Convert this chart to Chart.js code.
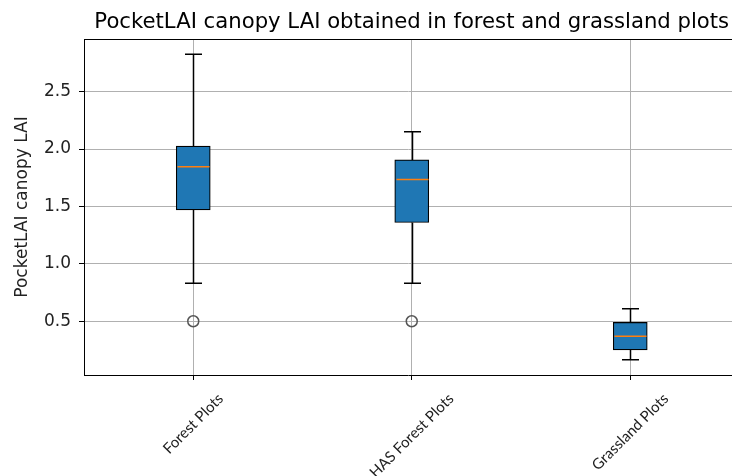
<!DOCTYPE html>
<html>
<head>
<meta charset="utf-8">
<script src="https://cdn.jsdelivr.net/npm/chart.js@4"></script>
<style>
  html, body { margin: 0; padding: 0; background: #fff; }
  #wrap { width: 732px; height: 476px; }
</style>
</head>
<body>
<div id="wrap"><canvas id="myChart" width="732" height="476"></canvas></div>
<script>
// box plot summary per plot type
const categories = ['Forest Plots', 'HAS Forest Plots', 'Grassland Plots'];
const positions = [1, 2, 3];
const whiskerLow = [0.83, 0.83, 0.165];
const q1 = [1.47, 1.36, 0.25];
const median = [1.845, 1.735, 0.37];
const q3 = [2.025, 1.905, 0.49];
const whiskerHigh = [2.825, 2.15, 0.61];
const outliers = [[0.5], [0.5], []];
const yTicks = [0.5, 1.0, 1.5, 2.0, 2.5];

const chartTitle = 'PocketLAI canopy LAI obtained in forest and grassland plots';
const yTitle = 'PocketLAI canopy LAI';

const boxData = positions.map((p, i) => ({ x: p, y: [q1[i], q3[i]] }));
const flierData = [];
positions.forEach((p, i) => outliers[i].forEach(v => flierData.push({ x: p, y: v })));

const BOX_W = 34;

// whiskers, caps, medians, top spine, title and rotated category labels
const boxParts = {
  id: 'boxParts',
  afterDatasetsDraw(chart) {
    const ctx = chart.ctx;
    const xs = chart.scales.x, ys = chart.scales.y;
    ctx.save();
    positions.forEach((p, i) => {
      const cx = Math.round(xs.getPixelForValue(p)) + 0.5;
      ctx.strokeStyle = '#000';
      ctx.lineWidth = 1.5;
      ctx.beginPath();
      ctx.moveTo(cx, ys.getPixelForValue(q3[i]));
      ctx.lineTo(cx, ys.getPixelForValue(whiskerHigh[i]));
      ctx.moveTo(cx, ys.getPixelForValue(q1[i]));
      ctx.lineTo(cx, ys.getPixelForValue(whiskerLow[i]));
      [whiskerHigh[i], whiskerLow[i]].forEach(v => {
        const y = ys.getPixelForValue(v);
        ctx.moveTo(cx - BOX_W / 4, y);
        ctx.lineTo(cx + BOX_W / 4, y);
      });
      ctx.stroke();
      ctx.strokeStyle = '#ff7f0e';
      ctx.lineWidth = 1.6;
      ctx.beginPath();
      const my = ys.getPixelForValue(median[i]);
      ctx.moveTo(cx - BOX_W / 2 + 1, my);
      ctx.lineTo(cx + BOX_W / 2 - 1, my);
      ctx.stroke();
    });
    ctx.restore();
  },
  afterDraw(chart) {
    const ctx = chart.ctx;
    const area = chart.chartArea;
    const xs = chart.scales.x;
    ctx.save();
    // top spine
    ctx.strokeStyle = '#000';
    ctx.lineWidth = 1;
    ctx.beginPath();
    ctx.moveTo(area.left, area.top + 0.5);
    ctx.lineTo(area.right, area.top + 0.5);
    ctx.stroke();

    // title centred over the full axes span
    const axMid = (xs.getPixelForValue(0.5) + xs.getPixelForValue(3.5)) / 2;
    ctx.fillStyle = '#000';
    ctx.font = '21.2px "DejaVu Sans"';
    ctx.textAlign = 'center';
    ctx.textBaseline = 'middle';
    ctx.fillText(chartTitle, axMid, 22);

    // category labels rotated 45 degrees, centred under each tick
    ctx.font = '15px Lato';
    const h = 15;
    const top = area.bottom + 16;
    positions.forEach((p, i) => {
      const w = ctx.measureText(categories[i]).width;
      const half = (w + h) / (2 * Math.SQRT2);
      ctx.save();
      ctx.translate(xs.getPixelForValue(p), top + half);
      ctx.rotate(-Math.PI / 4);
      ctx.fillStyle = '#222';
      ctx.fillText(categories[i], 0, 0);
      ctx.restore();
    });
    ctx.restore();
  }
};

const ctx = document.getElementById('myChart').getContext('2d');
const chart = new Chart(ctx, {
  type: 'bar',
  data: {
    datasets: [{
      type: 'bar',
      data: boxData,
      backgroundColor: '#1f77b4',
      borderColor: '#000',
      borderWidth: 1.2,
      borderSkipped: false,
      barThickness: BOX_W
    }, {
      type: 'scatter',
      data: flierData,
      pointStyle: 'circle',
      pointRadius: 5.5,
      pointHoverRadius: 5.5,
      backgroundColor: 'rgba(0,0,0,0)',
      borderColor: '#555',
      borderWidth: 1.5
    }]
  },
  options: {
    responsive: false,
    animation: false,
    devicePixelRatio: 1,
    layout: { autoPadding: false, padding: { top: 39, left: 0, right: 0, bottom: 0 } },
    plugins: {
      legend: { display: false },
      title: { display: false },
      tooltip: { enabled: false }
    },
    scales: {
      x: {
        type: 'linear',
        offset: false,
        min: 0.5,
        max: 0.5 + 648 / 218.5,
        afterBuildTicks: s => { s.ticks = positions.map(v => ({ value: v })); },
        afterFit: s => { s.height = 101; },
        ticks: { display: false },
        grid: { offset: false, color: '#b0b0b0', lineWidth: 1, tickLength: 5, tickColor: '#000', tickWidth: 1 },
        border: { display: true, color: '#000', width: 1 }
      },
      y: {
        min: 0.032,
        max: 2.958,
        afterBuildTicks: s => { s.ticks = yTicks.map(v => ({ value: v })); },
        afterFit: s => { s.width = 84; },
        ticks: {
          color: '#222',
          padding: 8,
          font: { family: 'DejaVu Sans', size: 17 },
          callback: v => Number(v).toFixed(1)
        },
        grid: { color: '#b0b0b0', lineWidth: 1, tickLength: 5, tickColor: '#000', tickWidth: 1 },
        border: { display: true, color: '#000', width: 1 },
        title: {
          display: true,
          text: yTitle,
          color: '#222',
          font: { family: 'DejaVu Sans', size: 17 },
          padding: { top: 12, bottom: 0 }
        }
      }
    }
  },
  plugins: [boxParts]
});
</script>
</body>
</html>
